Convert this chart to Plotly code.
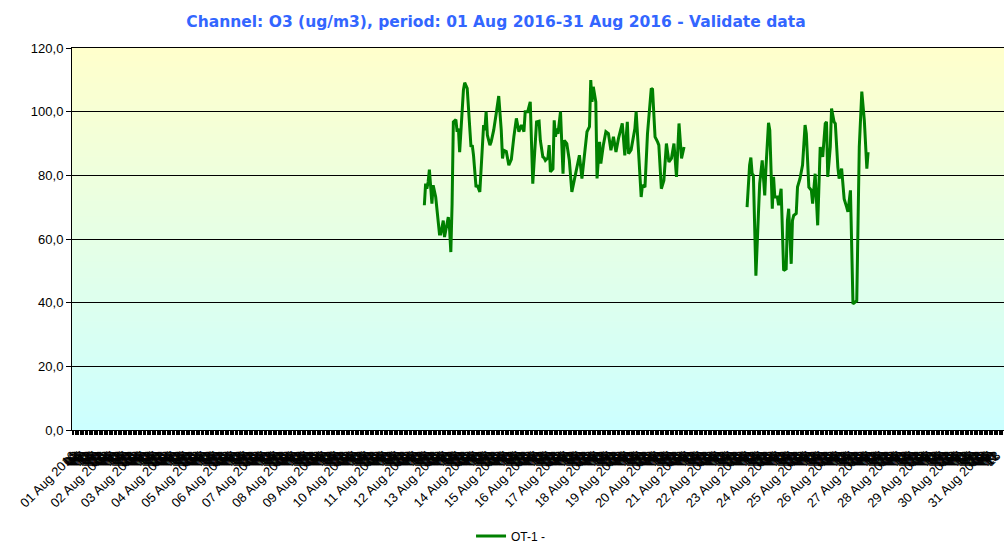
import plotly.graph_objects as go
import pandas as pd

title_text = "Channel: O3 (ug/m3), period: 01 Aug 2016-31 Aug 2016 - Validate data"
series_name = "OT-1 -"
period_start = "2016-08-01 00:00"
n_hours = 744

# hours since 01 Aug 2016 00:00 and O3 readings (ug/m3)
seg1_hours = [279, 280, 281, 282, 283, 285, 286, 288, 291, 292, 294, 295, 297, 298, 299, 300,
              301, 302, 304, 305, 306, 307, 310, 311, 313, 314, 316, 317, 318, 320, 321, 323,
              325, 326, 327, 328, 329, 331, 332, 334, 336, 338, 340, 341, 342, 344, 346, 348,
              350, 352, 354, 356, 358, 359, 361, 363, 365, 367, 368, 370, 371, 373, 374, 375,
              377, 378, 379, 381, 382, 383, 384, 385, 387, 389, 390, 392, 394, 396, 398, 400,
              402, 404, 406, 408, 410, 411, 412, 413, 415, 416, 418, 419, 421, 423, 425, 427,
              429, 431, 433, 436, 438, 440, 441, 443, 446, 447, 449, 451, 452, 454, 456, 459,
              460, 462, 464, 465, 467, 469, 471, 473, 475, 477, 479, 481, 483, 485]
seg1_values = [70.6, 77.4, 75.8, 77.9, 81.8, 71.1, 76.9, 73.2, 61.6, 61.6, 65.8, 60.6, 64.8, 66.9, 63.2, 55.9,
               71.0, 96.8, 97.5, 93.7, 94.7, 87.3, 106.8, 109.1, 107.3, 101.5, 88.9, 89.5, 86.3, 76.3, 76.9, 74.8,
               92.0, 95.8, 94.2, 100.0, 92.6, 89.5, 90.5, 94.2, 99.4, 104.9, 94.2, 85.3, 87.9, 87.5, 83.2, 85.0,
               92.1, 97.9, 93.7, 95.8, 93.7, 100.0, 100.0, 103.1, 77.4, 90.5, 96.8, 97.0, 91.0, 85.8, 85.5, 84.7,
               85.5, 89.5, 81.1, 82.0, 97.3, 92.1, 94.7, 93.0, 100.0, 80.5, 91.0, 90.0, 84.7, 74.8, 78.4, 82.0,
               86.3, 79.0, 85.8, 93.7, 95.3, 109.9, 103.1, 107.8, 103.1, 79.0, 90.5, 83.7, 89.5, 93.7, 93.1, 87.9,
               92.1, 87.3, 91.6, 96.3, 86.3, 96.8, 86.8, 88.0, 94.7, 100.0, 86.8, 73.2, 76.9, 76.3, 93.1, 107.3,
               107.0, 92.1, 90.5, 89.5, 75.8, 78.4, 90.0, 84.2, 85.3, 90.0, 79.5, 96.3, 85.3, 88.9]
gap_hour = 510
seg2_hours = [535, 537, 538, 539, 540, 542, 544, 545, 547, 549, 550, 552, 553, 555, 556, 557,
              559, 560, 562, 564, 566, 567, 568, 570, 571, 572, 574, 575, 577, 579, 581, 582,
              584, 586, 587, 589, 591, 592, 593, 595, 597, 598, 599, 601, 602, 604, 605, 607,
              608, 610, 612, 614, 615, 617, 619, 622, 624, 626, 628, 630, 631]
seg2_values = [70.0, 83.2, 85.6, 80.5, 80.0, 48.5, 67.9, 77.4, 84.7, 73.7, 82.6, 96.5, 94.2, 69.5, 79.5, 73.2,
               73.2, 70.6, 75.8, 50.1, 50.6, 65.8, 69.5, 52.2, 65.8, 67.4, 68.0, 76.3, 79.0, 83.2, 95.8, 93.1,
               76.3, 75.3, 71.1, 80.5, 64.3, 74.2, 88.9, 85.8, 96.3, 96.8, 79.5, 88.9, 101.0, 96.8, 96.3, 82.6,
               79.0, 82.1, 72.6, 70.0, 68.5, 75.3, 39.6, 40.6, 88.9, 106.3, 97.3, 82.1, 87.3]

y_ticks = [0, 20, 40, 60, 80, 100, 120]
y_tick_labels = ["0,0", "20,0", "40,0", "60,0", "80,0", "100,0", "120,0"]

# ---------------------------------------------------------------
x_vals = seg1_hours + [gap_hour] + seg2_hours
y_vals = seg1_values + [None] + seg2_values

stamps = pd.date_range(period_start, periods=n_hours, freq="h")
tick_vals = list(range(n_hours))
tick_text = [t.strftime("%d %b %Y") if t.hour == 0 else t.strftime("%H") for t in stamps]

fig = go.Figure()
fig.add_trace(go.Scatter(
    x=x_vals, y=y_vals, mode="lines", name=series_name,
    line=dict(color="#008000", width=3), connectgaps=False,
))

# vertical gradient background (light yellow -> light cyan)
top = (255, 255, 204)
bot = (204, 255, 255)
n_strips = 120
shapes = []
for i in range(n_strips):
    f = i / (n_strips - 1)
    c = tuple(round(top[k] + (bot[k] - top[k]) * f) for k in range(3))
    shapes.append(dict(
        type="rect", xref="paper", yref="paper", x0=0, x1=1,
        y1=1 - i / n_strips, y0=1 - (i + 1) / n_strips - 0.002,
        fillcolor="rgb(%d,%d,%d)" % c, line=dict(width=0), layer="below",
    ))

fig.update_layout(
    width=1004, height=543,
    paper_bgcolor="white", plot_bgcolor="rgba(0,0,0,0)",
    margin=dict(l=72, r=0, t=48, b=113),
    title=dict(text="<b>" + title_text + "</b>", x=0.494, xanchor="center", y=0.9595, yanchor="middle",
               font=dict(family="DejaVu Sans", size=15.5, color="#3366FF")),
    shapes=shapes,
    showlegend=True,
    legend=dict(orientation="h", x=0.509, xanchor="center", xref="container",
                y=1 - 536 / 543, yanchor="middle", yref="container",
                font=dict(family="Liberation Sans, Arial", size=12, color="black"),
                itemwidth=30, bgcolor="rgba(0,0,0,0)"),
    font=dict(family="Liberation Sans, Arial", size=12, color="black"),
)
fig.update_xaxes(
    range=[-0.5, 738.8], tickmode="array", tickvals=tick_vals, ticktext=tick_text,
    tickangle=-45, ticks="outside", ticklen=4, tickwidth=1, tickcolor="black",
    ticklabelstandoff=8,
    showline=True, linecolor="black", linewidth=1, mirror=True,
    showgrid=False, zeroline=False, automargin=False,
    tickfont=dict(family="Liberation Sans, Arial", size=13, color="black"),
)
fig.update_yaxes(
    range=[0, 120], tickmode="array", tickvals=y_ticks, ticktext=y_tick_labels,
    ticks="outside", ticklen=5, tickcolor="black",
    showline=True, linecolor="black", linewidth=1,
    showgrid=True, gridcolor="black", gridwidth=1, zeroline=False, automargin=False,
    tickfont=dict(family="Liberation Sans, Arial", size=13, color="black"),
)

fig.write_html(
    "out.html",
    config={"displayModeBar": False},
    post_script="document.body.style.margin='0';document.body.style.overflow='hidden';",
)
